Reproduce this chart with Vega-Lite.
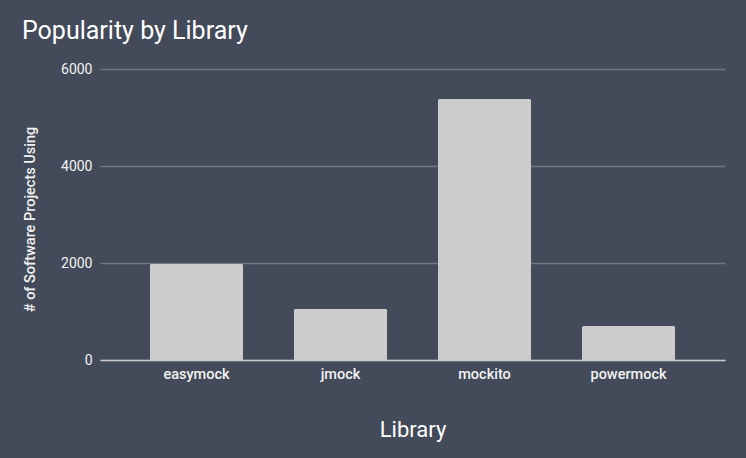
{
  "$schema": "https://vega.github.io/schema/vega-lite/v6.json",
  "width": 625,
  "height": 291,
  "autosize": {"type": "none"},
  "padding": {"left": 100, "top": 69, "right": 21, "bottom": 98},
  "background": "#434a59",
  "title": {
    "text": "Popularity by Library",
    "anchor": "start",
    "frame": "group",
    "dx": -78,
    "dy": 30,
    "offset": 28,
    "baseline": "alphabetic",
    "font": "Roboto",
    "fontSize": 25,
    "fontWeight": "normal",
    "color": "#ffffff"
  },
  "data": {
    "values": [
      {"library": "easymock", "projects": 1985},
      {"library": "jmock", "projects": 1055},
      {"library": "mockito", "projects": 5380},
      {"library": "powermock", "projects": 700}
    ]
  },
  "mark": {
    "type": "bar",
    "color": "#cccccc",
    "cornerRadiusTopLeft": 2,
    "cornerRadiusTopRight": 2
  },
  "encoding": {
    "x": {
      "field": "library",
      "type": "nominal",
      "sort": null,
      "scale": {"paddingInner": 0.352, "paddingOuter": 0.346},
      "axis": {
        "title": "Library",
        "titleFont": "Roboto",
        "titleFontSize": 22,
        "titleFontWeight": "normal",
        "titleColor": "#ffffff",
        "titleBaseline": "alphabetic",
        "titleY": 76,
        "labelAngle": 0,
        "labelFont": "Roboto",
        "labelFontSize": 14.5,
        "labelFontWeight": 500,
        "labelColor": "#f2f2f2",
        "labelPadding": 7,
        "ticks": false,
        "domainColor": "#c8c8cc",
        "domainWidth": 1.5,
        "grid": false
      }
    },
    "y": {
      "field": "projects",
      "type": "quantitative",
      "scale": {"domain": [0, 6000], "nice": false},
      "axis": {
        "title": "# of Software Projects Using",
        "titleFont": "Roboto",
        "titleFontSize": 14.5,
        "titleFontWeight": 500,
        "titleColor": "#f2f2f2",
        "titleAngle": -90,
        "titleBaseline": "middle",
        "titleX": -70,
        "titleY": 150,
        "values": [0, 2000, 4000, 6000],
        "format": "d",
        "labelFont": "Roboto",
        "labelFontSize": 14,
        "labelColor": "#f2f2f2",
        "labelPadding": 8,
        "ticks": false,
        "domain": false,
        "gridColor": "#6f7684",
        "gridWidth": 1.5
      }
    }
  },
  "config": {
    "view": {"stroke": null}
  }
}
